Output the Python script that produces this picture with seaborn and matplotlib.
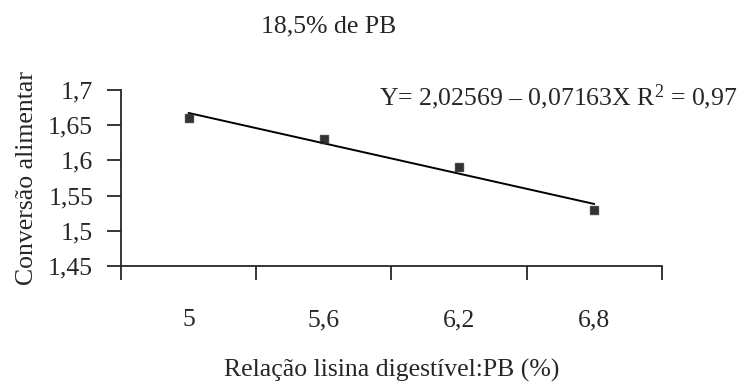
import matplotlib
matplotlib.use("Agg")
import matplotlib.pyplot as plt
import numpy as np
import pandas as pd
import seaborn as sns

# data
lisina_pb = [5.0, 5.6, 6.2, 6.8]
x_labels = ["5", "5,6", "6,2", "6,8"]
conversao = [1.660, 1.631, 1.590, 1.530]
y_ticks = [1.45, 1.5, 1.55, 1.6, 1.65, 1.7]
y_labels = ["1,45", "1,5", "1,55", "1,6", "1,65", "1,7"]
x_bounds = [4.7, 5.3, 5.9, 6.5, 7.1]

df = pd.DataFrame({"x": lisina_pb, "y": conversao})

sns.set_style("ticks")
plt.rcParams["font.family"] = ["Liberation Serif", "DejaVu Serif"]
plt.rcParams["mathtext.fontset"] = "custom"
plt.rcParams["mathtext.rm"] = "Liberation Serif"
plt.rcParams["mathtext.it"] = "Liberation Serif:italic"
fs = 18.5

fig = plt.figure(figsize=(7.42, 3.83), dpi=100)
ax = fig.add_axes([0.163, 0.3055, 0.729, 0.4595])

sns.regplot(data=df, x="x", y="y", ci=None, truncate=True, ax=ax, marker="s",
            scatter_kws=dict(s=38, color="black", edgecolor="#333333",
                             linewidths=1.0, zorder=3),
            line_kws=dict(color="black", lw=1.4))

ax.set_xlim(x_bounds[0], x_bounds[-1])
ax.set_ylim(y_ticks[0], y_ticks[-1])

# category boundaries as major ticks, labels centred as minor ticks
ax.set_xticks(x_bounds)
ax.set_xticklabels([""] * len(x_bounds))
ax.set_xticks(lisina_pb, minor=True)
ax.set_xticklabels(x_labels, minor=True)
ax.tick_params(axis="x", which="minor", length=0, pad=31, labelsize=fs)
ax.tick_params(axis="x", which="major", length=10, width=1.3, direction="out")

ax.set_yticks(y_ticks)
ax.set_yticklabels(y_labels)
ax.tick_params(axis="y", length=10, width=1.3, labelsize=fs, pad=10)

for side in ["top", "right"]:
    ax.spines[side].set_visible(False)
for side in ["left", "bottom"]:
    ax.spines[side].set_linewidth(1.3)

ax.set_xlabel("Relação lisina digestível:PB (%)", fontsize=fs, labelpad=20)
ax.set_ylabel("Conversão alimentar", fontsize=fs, labelpad=7)

fig.text(0.443, 0.93, "18,5% de PB", ha="center", va="center", fontsize=fs)
fig.text(0.994, 0.745, r"Y= 2,02569 – 0,07163X R$^\mathrm{2}$ = 0,97",
         ha="right", va="center", fontsize=fs)

fig.savefig("out.png", dpi=100)
plt.close(fig)
